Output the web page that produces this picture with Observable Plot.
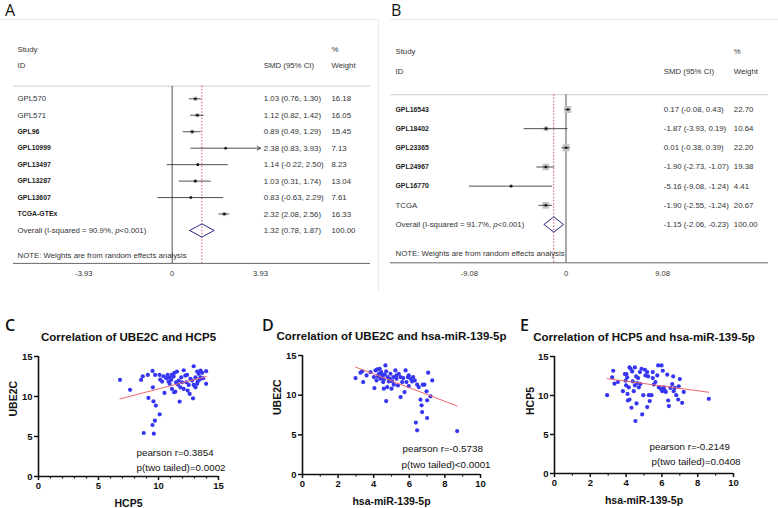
<!DOCTYPE html>
<html><head><meta charset="utf-8">
<script src="https://cdn.jsdelivr.net/npm/d3@7"></script>
<script src="https://cdn.jsdelivr.net/npm/@observablehq/plot@0.6"></script>
<style>
body{margin:0;background:#fff;}
#root{position:relative;width:778px;height:508px;overflow:hidden;font-family:"Liberation Sans",Arial,sans-serif;}
.letter{position:absolute;font-family:"Open Sans","Liberation Sans",Arial,sans-serif;font-size:16px;line-height:18px;color:#111;}
.box{position:absolute;border-top:1px solid #e6edef;}
</style></head>
<body><div id="root"></div>
<script>
// ---------- Panel A data ----------
const studiesA = ["GPL570","GPL571","GPL96","GPL10999","GPL13497","GPL13287","GPL13607","TCGA-GTEx"];
const boldA = [false,false,true,true,true,true,true,true];
const smdA = [1.03,1.12,0.89,2.38,1.14,1.03,0.83,2.32];
const loA = [0.76,0.82,0.49,0.83,-0.22,0.31,-0.63,2.08];
const hiA = [1.30,1.42,1.29,3.93,2.50,1.74,2.29,2.56];
const weightA = [16.18,16.05,15.45,7.13,8.23,13.04,7.61,16.33];
const arrowA = [false,false,false,true,false,false,false,false];
const overallA = [1.32,0.78,1.87,100.00];
const overallLabelA = "Overall (I-squared = 90.9%, p<0.001)";
const ticksA = [-3.93,0,3.93];

// ---------- Panel B data ----------
const studiesB = ["GPL16543","GPL18402","GPL23365","GPL24967","GPL16770","TCGA"];
const boldB = [true,true,true,true,true,false];
const smdB = [0.17,-1.87,0.01,-1.90,-5.16,-1.90];
const loB = [-0.08,-3.93,-0.38,-2.73,-9.08,-2.55];
const hiB = [0.43,0.19,0.39,-1.07,-1.24,-1.24];
const weightB = [22.70,10.64,22.20,19.38,4.41,20.67];
const arrowB = [false,false,false,false,false,false];
const overallB = [-1.15,-2.06,-0.23,100.00];
const overallLabelB = "Overall (I-squared = 91.7%, p<0.001)";
const ticksB = [-9.08,0,9.08];

// ---------- Panel C: HCP5 vs UBE2C ----------
const hcp5C = [6.79,7.63,8.55,8.69,9.11,9.50,9.72,9.53,9.16,9.58,
9.78,10.10,9.70,9.50,8.77,9.61,10.09,10.14,10.30,10.50,
10.65,10.93,10.84,11.06,11.26,11.34,11.54,11.12,11.30,11.40,
10.93,11.62,11.82,11.96,11.90,12.10,12.24,12.38,12.32,12.10,
12.52,12.43,12.60,11.76,12.93,12.80,12.88,13.08,13.22,13.35,
13.50,13.64,13.97,13.97,13.22,13.44,12.93,12.66,11.68,10.42,
11.46,10.76,11.12,13.08,13.50,13.27,13.72];
const ube2cC = [12.08,10.83,12.08,12.53,12.70,13.20,12.70,11.15,9.82,9.40,
8.86,7.77,6.98,6.44,5.44,5.35,12.70,12.10,11.87,10.45,
12.28,12.37,11.87,12.08,12.49,12.96,13.12,10.95,10.53,10.60,
11.58,11.49,11.15,11.78,12.40,13.28,12.62,12.70,11.78,10.95,
11.45,10.74,10.32,9.36,13.78,11.99,9.77,12.40,13.12,12.83,
13.25,12.96,13.16,11.58,11.58,12.12,11.45,12.20,11.99,12.53,
11.78,12.70,12.74,11.15,12.40,11.87,12.28];
const fitCx = [6.79,13.97], fitCy = [9.70,12.49];

// ---------- Panel D: hsa-miR-139-5p vs UBE2C ----------
const mirD = [2.98,3.26,3.35,3.41,3.60,4.01,4.04,4.10,4.20,4.29,
4.34,4.16,4.38,4.48,4.53,4.57,4.66,4.70,4.70,4.79,
4.85,4.94,5.00,5.10,5.22,5.28,5.36,5.51,5.51,5.66,
5.73,5.79,5.84,5.92,5.97,6.07,6.16,6.31,6.44,6.63,
6.69,6.76,6.85,6.97,7.00,7.06,7.29,6.72,7.00,6.37,
6.44,8.69,7.19,3.82,4.23,4.42,4.62,5.04,5.41,5.60,
6.22,4.76,5.13,4.57,4.90,5.28,5.97,6.53];
const ube2cD = [12.15,12.83,13.00,11.65,12.49,12.28,10.90,13.12,13.25,12.70,
13.33,11.86,12.07,12.49,11.65,10.82,13.75,13.00,9.26,12.28,
11.73,12.70,10.82,12.28,13.12,12.07,11.23,9.76,12.28,12.15,
10.39,13.12,11.65,12.28,11.15,12.07,11.73,11.86,11.32,9.43,
8.72,11.32,11.32,10.48,9.35,12.83,11.86,7.87,7.12,6.54,
5.57,5.48,9.85,12.90,12.40,12.90,12.58,11.73,12.70,11.65,
12.28,11.02,11.32,11.99,12.07,12.49,12.49,11.02];
const fitDx = [2.98,8.69], fitDy = [13.54,8.63];

// ---------- Panel E: hsa-miR-139-5p vs HCP5 ----------
const mirE = [2.94,3.22,3.28,3.35,3.54,3.93,4.02,3.97,4.00,4.08,
4.10,4.19,4.19,4.25,4.15,4.30,4.34,4.37,4.43,4.49,
4.49,4.52,4.56,4.62,4.58,4.67,4.71,4.77,4.80,4.86,
4.90,4.96,5.05,5.08,5.18,5.18,5.23,5.27,5.32,5.42,
5.49,5.55,5.64,5.74,5.79,5.98,5.92,6.02,6.05,6.11,
6.16,6.22,6.30,6.35,6.39,6.48,6.58,6.63,6.66,6.72,
6.80,6.91,6.94,7.00,7.13,7.22,8.62,3.82,4.06,5.49,
5.83];
const hcp5E = [10.04,12.33,13.17,11.52,11.73,12.75,12.75,11.90,11.30,10.20,
9.36,9.49,13.60,13.43,11.05,8.43,13.09,11.82,10.55,13.60,
11.30,6.73,12.45,11.60,8.98,12.24,11.05,13.00,11.47,13.43,
7.58,10.04,13.30,12.58,13.00,8.51,12.45,10.04,9.28,10.04,
13.00,11.40,11.73,12.58,13.85,13.85,10.89,10.55,13.17,11.05,
10.64,10.46,12.67,9.36,8.64,10.97,11.47,12.45,10.55,10.97,
10.04,9.49,11.18,12.11,9.06,10.46,9.57,10.55,12.33,12.24,
11.05];
const fitEx = [2.94,8.62], fitEy = [12.16,10.42];

const FONT = '"Liberation Sans", Arial, sans-serif';
const root = document.getElementById("root");
function put(node, left, top) {
  node.style.position = "absolute";
  node.style.left = left + "px";
  node.style.top = top + "px";
  root.appendChild(node);
  return node;
}
function letter(t, left, top, weight) {
  const d = document.createElement("div");
  d.className = "letter"; d.textContent = t;
  d.style.fontWeight = weight || 400;
  put(d, left, top);
}
function box(left, top, w, h, right) {
  const d = document.createElement("div");
  d.className = "box";
  d.style.width = w + "px"; d.style.height = h + "px";
  if (right) d.style.borderRight = "1px solid #e6edef";
  put(d, left, top);
}

function forest(o) {
  const n = o.studies.length;
  const rows = o.studies.map((s, i) => ({i, label: s, bold: o.bold[i], smd: o.smd[i], lo: o.lo[i], hi: o.hi[i], w: o.weight[i], arrow: o.arrow[i]}));
  const ov = {i: n, label: o.overallLabel, smd: o.overall[0], lo: o.overall[1], hi: o.overall[2], w: o.overall[3]};
  const all = [...rows, ov];
  const f = v => v.toFixed(2);
  const ciText = d => `${f(d.smd)} (${f(d.lo)}, ${f(d.hi)})`;
  const sep = -0.77, axisRow = n + 2, noteRow = n + 1.5, h = 0.4;
  const diamond = [[ov.lo, n], [ov.smd, n - h], [ov.hi, n], [ov.smd, n + h], [ov.lo, n]].map(([x, y]) => ({x, y}));
  const base = {fontSize: 7.8, fill: "#333", textAnchor: "start", frameAnchor: "left", fontFamily: FONT};
  const svg = Plot.plot({
    width: o.width, height: o.height,
    marginLeft: o.ml, marginRight: o.mr, marginTop: 0, marginBottom: o.mb,
    x: {domain: o.xDomain, label: null},
    y: {domain: o.yDomain, reverse: true, axis: null, label: null},
    r: {domain: [0, 25], range: [0, o.rMax]},
    style: {background: "transparent", fontFamily: FONT},
    marks: [
      Plot.ruleY([sep], {stroke: "#c8c8c8", strokeWidth: 0.9}),
      Plot.ruleY([axisRow], {stroke: "#666", strokeWidth: 1}),
      Plot.ruleX([0], {y1: sep, y2: axisRow, stroke: "#7a7a7a", strokeWidth: 1.3}),
      Plot.ruleX([ov.smd], {y1: sep, y2: axisRow, stroke: "#d2465e", strokeWidth: 0.9, strokeDasharray: "1.6,1.6"}),
      Plot.dot(rows, {x: "smd", y: "i", r: "w", symbol: "square", fill: "#c2c2c2", stroke: "none"}),
      Plot.ruleY(rows.filter(d => !d.arrow), {y: "i", x1: "lo", x2: "hi", stroke: "#222", strokeWidth: 0.8}),
      Plot.arrow(rows.filter(d => d.arrow), {x1: "lo", x2: "hi", y1: "i", y2: "i", stroke: "#222", strokeWidth: 0.8, headLength: 7}),
      Plot.dot(rows, {x: "smd", y: "i", r: 1.3, fill: "#111", stroke: "none"}),
      Plot.line(diamond, {x: "x", y: "y", stroke: "#2b2b86", strokeWidth: 1}),
      Plot.text([{i: -3, t: "Study"}, {i: -2, t: "ID"}], {...base, y: "i", text: "t", dx: o.labelDx}),
      Plot.text([{i: -2, t: "SMD (95% CI)"}], {...base, y: "i", text: "t", dx: o.smdDx}),
      Plot.text([{i: -3, t: "%"}, {i: -2, t: "Weight"}], {...base, y: "i", text: "t", dx: o.wDx}),
      Plot.text(all.filter(d => !d.bold), {...base, y: "i", text: "label", dx: o.labelDx}),
      Plot.text(rows.filter(d => d.bold), {...base, y: "i", text: "label", dx: o.labelDx, fontWeight: "bold", fontSize: 6.9, fill: "#222"}),
      Plot.text(all, {...base, y: "i", text: ciText, dx: o.smdDx}),
      Plot.text(all, {...base, y: "i", text: d => f(d.w), dx: o.wDx}),
      Plot.text([{i: noteRow, t: "NOTE: Weights are from random effects analysis"}], {...base, y: "i", text: "t", dx: o.labelDx}),
      Plot.axisX({ticks: o.ticks, tickFormat: d => String(d), tickSize: 0, tickPadding: 7, fontSize: 7.6, color: "#333", label: null})
    ]
  });
  // italic p in the overall label
  svg.querySelectorAll("text").forEach(t => {
    if (t.childElementCount === 0 && t.textContent.includes(", p<")) {
      const [a, b] = t.textContent.split(", p<");
      t.textContent = "";
      t.appendChild(document.createTextNode(a + ", "));
      const ts = document.createElementNS("http://www.w3.org/2000/svg", "tspan");
      ts.setAttribute("font-style", "italic");
      ts.textContent = "p";
      t.appendChild(ts);
      t.appendChild(document.createTextNode("<" + b));
    }
  });
  return svg;
}

function scatter(o) {
  const pts = o.xs.map((x, i) => ({x, y: o.ys[i]}));
  const fit = o.fx.map((x, i) => ({x, y: o.fy[i]}));
  return Plot.plot({
    width: o.width, height: o.height,
    marginLeft: o.ml, marginRight: o.mr, marginTop: o.mt, marginBottom: o.mb,
    x: {domain: o.xDomain, label: null},
    y: {domain: [0, 15], label: null},
    style: {background: "transparent", fontFamily: FONT},
    marks: [
      Plot.dot(pts, {x: "x", y: "y", r: 2.1, fill: "#3535f2", stroke: "none"}),
      Plot.line(fit, {x: "x", y: "y", stroke: "#f26a6a", strokeWidth: 1}),
      Plot.axisX({ticks: o.xMinor, tickSize: 2.5, tickFormat: () => "", strokeWidth: 1.2, color: "#111", label: null}),
      Plot.axisX({ticks: o.xTicks, tickSize: 4, tickPadding: 2, fontSize: 9.5, fontWeight: "bold", strokeWidth: 1.5, color: "#111", label: null}),
      Plot.axisY({ticks: [0, 5, 10, 15], tickSize: 4, tickPadding: 2, fontSize: 9.5, fontWeight: "bold", strokeWidth: 1.5, color: "#111", label: null}),
      Plot.ruleX([0], {stroke: "#111", strokeWidth: 1.6}),
      Plot.ruleY([0], {stroke: "#111", strokeWidth: 1.6}),
      Plot.text([o.title], {frameAnchor: "top", dy: -19, lineAnchor: "middle", fontSize: 11.5, fontWeight: "bold", fill: "#111"}),
      Plot.text([o.xLabel], {frameAnchor: "bottom", dy: 27, lineAnchor: "middle", fontSize: 10.5, fontWeight: "bold", fill: "#111"}),
      Plot.text([o.yLabel], {frameAnchor: "left", dx: o.yLabelDx, rotate: -90, lineAnchor: "middle", fontSize: 10.5, fontWeight: "bold", fill: "#111"}),
      Plot.text([o.stat1], {frameAnchor: "bottom-left", dx: o.sdx, dy: o.sdy[0], textAnchor: "start", lineAnchor: "middle", fontSize: 9.8, fill: "#111"}),
      Plot.text([o.stat2], {frameAnchor: "bottom-left", dx: o.sdx2, dy: o.sdy[1], textAnchor: "start", lineAnchor: "middle", fontSize: 9.8, fill: "#111"})
    ]
  });
}

// frames
box(0, 19, 378, 271, true);
box(390, 19, 388, 271, false);

// Panel A: x 0 at 171.7px, 22.47 px per unit; rows at 98.3 + 16.46 i (page)
put(forest({
  studies: studiesA, bold: boldA, smd: smdA, lo: loA, hi: hiA, weight: weightA, arrow: arrowA,
  overall: overallA, overallLabel: overallLabelA, ticks: ticksA,
  width: 390, height: 270, ml: 13, mr: 20, mb: 27,
  xDomain: [-7.063, 8.825], yDomain: [-4.757, 10.006], rMax: 2.9,
  labelDx: 4, smdDx: 250.3, wDx: 318
}), 0, 20);

// Panel B: x 0 at 565.5px, 10.64 px per unit; rows at 109 + 19.17 i (page)
put(forest({
  studies: studiesB, bold: boldB, smd: smdB, lo: loB, hi: hiB, weight: weightB, arrow: arrowB,
  overall: overallB, overallLabel: overallLabelB, ticks: ticksB,
  width: 388, height: 270, ml: 0, mr: 10, mb: 27.3,
  xDomain: [-16.49, 19.03], yDomain: [-4.643, 8.02], rMax: 4.15,
  labelDx: 5, smdDx: 273.3, wDx: 343.3
}), 390, 20);

put(scatter({
  xs: hcp5C, ys: ube2cC, fx: fitCx, fy: fitCy, xDomain: [0, 15], xTicks: [0, 5, 10, 15],
  xMinor: [1, 2, 3, 4, 6, 7, 8, 9, 11, 12, 13, 14],
  title: "Correlation of UBE2C and HCP5", xLabel: "HCP5", yLabel: "UBE2C", yLabelDx: -25,
  stat1: "pearson r=0.3854", stat2: "p(two tailed)=0.0002", sdx: 98, sdx2: 98, sdy: [-24, -9],
  width: 258, height: 180, ml: 38, mr: 40, mt: 28, mb: 32
}), 0, 328);

put(scatter({
  xs: mirD, ys: ube2cD, fx: fitDx, fy: fitDy, xDomain: [0, 10], xTicks: [0, 2, 4, 6, 8, 10],
  xMinor: [1, 3, 5, 7, 9],
  title: "Correlation of UBE2C and hsa-miR-139-5p", xLabel: "hsa-miR-139-5p", yLabel: "UBE2C", yLabelDx: -25,
  stat1: "pearson r=-0.5738", stat2: "p(two tailed)<0.0001", sdx: 100, sdx2: 99, sdy: [-26, -10],
  width: 258, height: 180, ml: 42, mr: 38, mt: 27, mb: 34
}), 260, 328);

put(scatter({
  xs: mirE, ys: hcp5E, fx: fitEx, fy: fitEy, xDomain: [0, 10], xTicks: [0, 2, 4, 6, 8, 10],
  xMinor: [1, 3, 5, 7, 9],
  title: "Correlation of HCP5 and hsa-miR-139-5p", xLabel: "hsa-miR-139-5p", yLabel: "HCP5", yLabelDx: -24,
  stat1: "pearson r=-0.2149", stat2: "p(two tailed)=0.0408", sdx: 95, sdx2: 97, sdy: [-27, -12],
  width: 260, height: 180, ml: 36, mr: 45, mt: 28, mb: 35
}), 518, 328);

letter("A", 5, 1, 400);
letter("B", 391, 1, 400);
letter("C", 5, 316, 600);
letter("D", 262, 316, 600);
letter("E", 520, 316, 600);
</script>
</body></html>
